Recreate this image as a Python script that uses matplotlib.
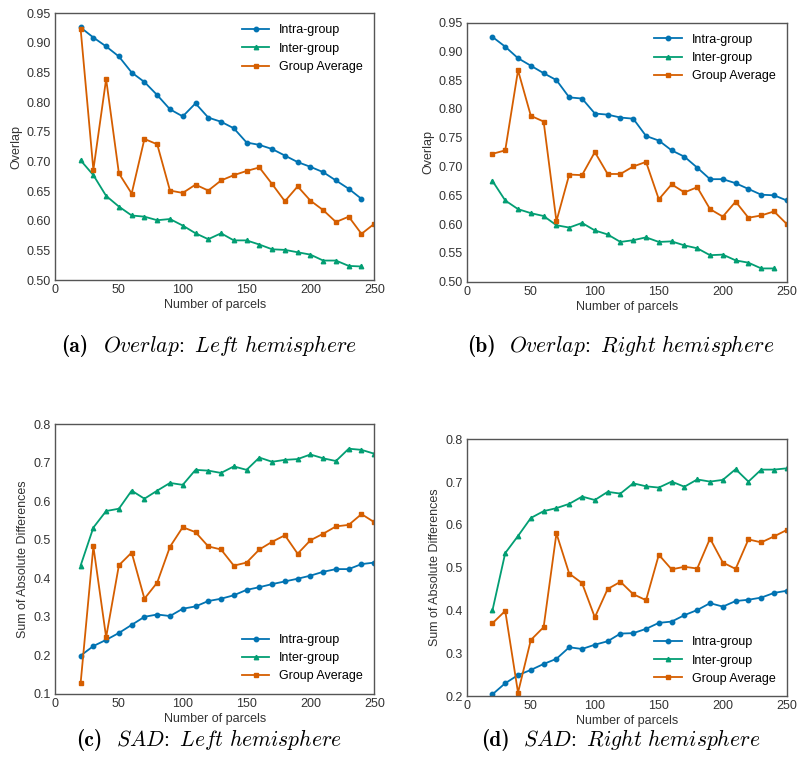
import numpy as np
import matplotlib
matplotlib.use('Agg')
import matplotlib.pyplot as plt
from matplotlib.offsetbox import TextArea, HPacker, AnnotationBbox

plt.rcParams['font.family'] = ['Liberation Sans', 'DejaVu Sans']
plt.rcParams['mathtext.fontset'] = 'cm'

parcels = list(range(20, 260, 10))

# (a) overlap, left hemisphere
ovl_left_intra = [0.926, 0.909, 0.894, 0.877, 0.850, 0.834, 0.812, 0.788, 0.776, 0.798,
                  0.774, 0.767, 0.756, 0.732, 0.728, 0.721, 0.710, 0.699, 0.691, 0.682,
                  0.668, 0.654, 0.637]
ovl_left_inter = [0.702, 0.677, 0.642, 0.624, 0.609, 0.607, 0.601, 0.603, 0.592, 0.579,
                  0.569, 0.579, 0.567, 0.567, 0.560, 0.552, 0.551, 0.547, 0.543, 0.533,
                  0.533, 0.524, 0.523]
ovl_left_avg = [0.924, 0.686, 0.839, 0.680, 0.646, 0.738, 0.729, 0.651, 0.647, 0.661,
                0.651, 0.668, 0.677, 0.684, 0.690, 0.662, 0.633, 0.658, 0.634, 0.618,
                0.598, 0.607, 0.578, 0.595]

# (b) overlap, right hemisphere
ovl_right_intra = [0.925, 0.908, 0.888, 0.875, 0.862, 0.850, 0.820, 0.818, 0.792, 0.790,
                   0.785, 0.783, 0.753, 0.745, 0.728, 0.717, 0.698, 0.678, 0.678, 0.671,
                   0.661, 0.651, 0.650, 0.641]
ovl_right_inter = [0.675, 0.641, 0.626, 0.619, 0.614, 0.598, 0.594, 0.602, 0.589, 0.582,
                   0.569, 0.572, 0.577, 0.569, 0.570, 0.563, 0.558, 0.546, 0.547, 0.537,
                   0.533, 0.523, 0.523]
ovl_right_avg = [0.722, 0.728, 0.867, 0.788, 0.778, 0.605, 0.686, 0.685, 0.725, 0.687,
                 0.687, 0.700, 0.708, 0.643, 0.669, 0.655, 0.664, 0.626, 0.613, 0.639,
                 0.611, 0.615, 0.622, 0.600]

# (c) SAD, left hemisphere
sad_left_intra = [0.199, 0.224, 0.240, 0.258, 0.279, 0.300, 0.306, 0.302, 0.321, 0.327,
                  0.341, 0.347, 0.356, 0.370, 0.377, 0.385, 0.392, 0.399, 0.407, 0.417,
                  0.424, 0.424, 0.437, 0.441]
sad_left_inter = [0.433, 0.532, 0.575, 0.581, 0.628, 0.607, 0.628, 0.648, 0.643, 0.682,
                  0.680, 0.674, 0.691, 0.682, 0.714, 0.703, 0.708, 0.710, 0.722, 0.712,
                  0.705, 0.737, 0.734, 0.724]
sad_left_avg = [0.127, 0.483, 0.247, 0.434, 0.467, 0.347, 0.389, 0.482, 0.533, 0.520,
                0.483, 0.475, 0.433, 0.441, 0.475, 0.495, 0.512, 0.464, 0.499, 0.516,
                0.535, 0.539, 0.567, 0.546]

# (d) SAD, right hemisphere
sad_right_intra = [0.204, 0.230, 0.249, 0.261, 0.275, 0.287, 0.314, 0.310, 0.320, 0.328,
                   0.346, 0.347, 0.357, 0.371, 0.374, 0.389, 0.401, 0.417, 0.409, 0.422,
                   0.425, 0.430, 0.441, 0.446]
sad_right_inter = [0.400, 0.534, 0.574, 0.616, 0.632, 0.639, 0.649, 0.666, 0.658, 0.677,
                   0.673, 0.697, 0.690, 0.687, 0.701, 0.689, 0.706, 0.701, 0.705, 0.730,
                   0.701, 0.729, 0.729, 0.732]
sad_right_avg = [0.370, 0.399, 0.208, 0.331, 0.361, 0.580, 0.486, 0.464, 0.384, 0.450,
                 0.467, 0.438, 0.424, 0.530, 0.496, 0.502, 0.498, 0.568, 0.512, 0.497,
                 0.566, 0.559, 0.573, 0.588]

labels = ['Intra-group', 'Inter-group', 'Group Average']
colors = ['#0173b2', '#029e73', '#d55e00']
markers = ['o', '^', 's']

panels = [
    dict(rect=[0.069, 0.639, 0.400, 0.344], series=[ovl_left_intra, ovl_left_inter, ovl_left_avg],
         ylim=(0.50, 0.95), yticks=np.arange(0.50, 0.951, 0.05), fmt='%.2f', ylabel='Overlap',
         loc='upper right', tag='(a)', cap=r'$\mathit{Overlap\!:\ Left\ hemisphere}$', capxy=(0.262, 0.555)),
    dict(rect=[0.585, 0.637, 0.401, 0.334], series=[ovl_right_intra, ovl_right_inter, ovl_right_avg],
         ylim=(0.50, 0.95), yticks=np.arange(0.50, 0.951, 0.05), fmt='%.2f', ylabel='Overlap',
         loc='upper right', tag='(b)', cap=r'$\mathit{Overlap\!:\ Right\ hemisphere}$', capxy=(0.778, 0.555)),
    dict(rect=[0.069, 0.106, 0.400, 0.347], series=[sad_left_intra, sad_left_inter, sad_left_avg],
         ylim=(0.1, 0.8), yticks=np.arange(0.1, 0.81, 0.1), fmt='%.1f', ylabel='Sum of Absolute Differences',
         loc='lower right', tag='(c)', cap=r'$\mathit{SAD\!:\ Left\ hemisphere}$', capxy=(0.262, 0.047)),
    dict(rect=[0.585, 0.103, 0.401, 0.331], series=[sad_right_intra, sad_right_inter, sad_right_avg],
         ylim=(0.2, 0.8), yticks=np.arange(0.2, 0.81, 0.1), fmt='%.1f', ylabel='Sum of Absolute Differences',
         loc='lower right', tag='(d)', cap=r'$\mathit{SAD\!:\ Right\ hemisphere}$', capxy=(0.778, 0.047)),
]

fig = plt.figure(figsize=(7.98, 7.76), dpi=100)
for p in panels:
	ax = fig.add_axes(p['rect'])
	for vals, lab, c, m in zip(p['series'], labels, colors, markers):
		ax.plot(parcels[:len(vals)], vals, color=c, marker=m, markersize=3.2, linewidth=1.3, label=lab)
	ax.set_xlim(0, 250)
	ax.set_ylim(*p['ylim'])
	ax.set_xticks([0, 50, 100, 150, 200, 250])
	ax.set_yticks(p['yticks'])
	ax.set_yticklabels([p['fmt'] % v for v in p['yticks']])
	ax.tick_params(length=0, labelsize=9, colors='#333333', pad=3)
	for s in ax.spines.values():
		s.set_color('#555555')
		s.set_linewidth(1.0)
	ax.set_xlabel('Number of parcels', fontsize=9, color='#333333', labelpad=2)
	ax.set_ylabel(p['ylabel'], fontsize=9, color='#333333', labelpad=3)
	ax.legend(loc=p['loc'], frameon=False, fontsize=9, handlelength=2.2)
	# caption: bold tag + italic text
	tag = TextArea(p['tag'], textprops=dict(family='cmb10', size=15.5))
	txt = TextArea(p['cap'], textprops=dict(size=15.5))
	box = HPacker(children=[tag, txt], align='baseline', pad=0, sep=10)
	ab = AnnotationBbox(box, p['capxy'], xycoords='figure fraction',
	                    frameon=False, box_alignment=(0.5, 0.5))
	fig.add_artist(ab)

fig.savefig('out.png', dpi=100)
